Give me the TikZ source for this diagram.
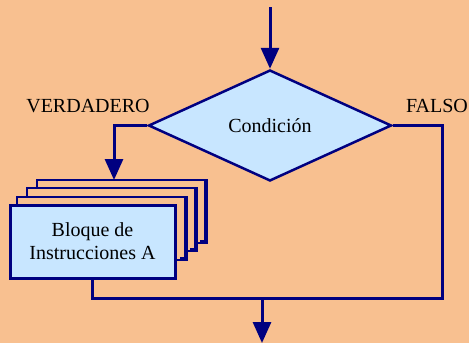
\documentclass[tikz,border=0pt]{standalone}
\usepackage{fontspec}
\setmainfont{Liberation Serif}
\usetikzlibrary{shapes.geometric,arrows.meta}
\definecolor{fondo}{RGB}{248,192,144}
\definecolor{celeste}{RGB}{200,230,255}
\definecolor{marino}{RGB}{0,0,128}
\tikzset{
  linea/.style={draw=marino, line width=3pt},
  flecha/.style={linea, -{Triangle[width=18pt,length=21pt]}},
  texto/.style={font=\fontsize{20}{22}\selectfont, text=black, inner sep=0pt},
}
\begin{document}
\begin{tikzpicture}[x=1pt,y=-1pt]
			\fill[fondo] (0,0) rectangle (469,343);
			\useasboundingbox (0,0) rectangle (469,343);
			% decision
			\node[diamond, draw=marino, line width=2.5pt, fill=celeste, inner sep=0pt,
			      minimum width=243pt, minimum height=111pt, texto] (cond) at (270,125.5) {Condición};
			% hojas de fondo del bloque
			\foreach \i in {3,2,1} {
				\draw[marino, line width=2pt, fill=fondo] (7+10*\i,205-8.3*\i) rectangle (177+10*\i,268-8.3*\i);
				\draw[marino, line width=4pt] (176+10*\i,206-8.3*\i) -- (176+10*\i,267-8.3*\i) -- (170+10*\i,267-8.3*\i);
			}
			\node[draw=marino, line width=3pt, fill=celeste, minimum width=165pt, minimum height=73pt,
			      align=center, texto] (bloque) at (92.5,241.5) {Bloque de\\[1pt]Instrucciones A};
			% etiquetas
			\node[texto] (verdadero) at (88,106) {VERDADERO};
			\node[texto] (falso) at (437,106) {FALSO};
			% conectores
			\coordinate (inicio) at (270,7);
			\coordinate (entrada) at (114,180);
			\coordinate (esquina) at (442,298);
			\coordinate (union) at (262,298);
			\coordinate (salida) at (262,343);
			\draw[flecha] (inicio) -- (cond.north);
			\draw[flecha] (cond.west) -| (entrada);
			\draw[linea] (cond.east) -| (esquina) -| (bloque.south);
			\draw[flecha] (union) -- (salida);
		\end{tikzpicture}
\end{document}
